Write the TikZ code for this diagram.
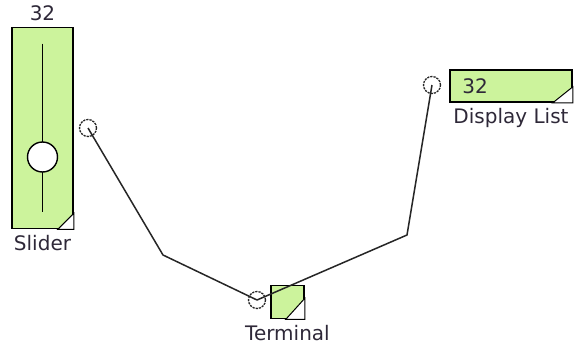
\documentclass[tikz,border=0pt]{standalone}
\usepackage{fontspec}
\setmainfont{DejaVu Sans}
\usetikzlibrary{positioning}
\definecolor{blkgreen}{HTML}{CCF39C}
\definecolor{blktext}{HTML}{2E2838}

\begin{document}
\begin{tikzpicture}[x=1pt, y=-1pt, font=\fontsize{20}{22}\selectfont,
    block/.style={draw=black, fill=blkgreen, line width=1.6pt, inner sep=0pt},
    port/.style={circle, draw=black!85, dash pattern=on 2.2pt off 1pt, fill=white, line width=1.3pt, minimum size=17pt, inner sep=0pt},
    wire/.style={line width=1.5pt, black!85},
    lbl/.style={text=blktext, inner sep=0pt}]
        \useasboundingbox (0,0) rectangle (577,348);

        % slider
        \node[block, minimum width=61pt, minimum height=201pt] (slider) at (42.5,128) {};
        \draw[line width=1.6pt] ([yshift=-17pt]slider.north) -- ([yshift=17pt]slider.south);
        \node[circle, draw, fill=white, line width=1.4pt, minimum size=30pt, inner sep=0pt] (knob) at (42.5,157) {};
        \filldraw[fill=white, line width=1pt] ([xshift=-16pt]slider.south east) -- (slider.south east) -- ([yshift=16pt]slider.south east) -- cycle;
        \node[lbl, above=6pt of slider] (slidervalue) {32};
        \node[lbl, below=6pt of slider] (slidername) {Slider};

        % display list
        \node[block, minimum width=122pt, minimum height=32pt] (display) at (511,86) {};
        \filldraw[fill=white, line width=1pt] ([xshift=-20pt]display.south east) -- (display.south east) -- ([yshift=16pt]display.south east) -- cycle;
        \node[lbl, anchor=west] (displayvalue) at ([xshift=13pt]display.west) {32};
        \node[lbl, below=5pt of display] (displayname) {Display List};

        % terminal
        \node[block, minimum size=33pt] (terminal) at (287.5,302) {};
        \filldraw[fill=white, line width=1pt] ([xshift=-19pt]terminal.south east) -- (terminal.south east) -- ([yshift=21pt]terminal.south east) -- cycle;
        \node[lbl, below=6pt of terminal] (terminalname) {Terminal};

        % ports and wires
        \node[port] (sliderport) at (88,128) {};
        \node[port] (displayport) at (432,85) {};
        \node[port] (terminalport) at (257,300) {};
        \coordinate (bendA) at (163,255);
        \coordinate (bendB) at (407,235);
        \draw[wire] (sliderport.center) -- (bendA) -- (terminalport.center);
        \draw[wire] (displayport.center) -- (bendB) -- (terminalport.center);
\end{tikzpicture}
\end{document}
